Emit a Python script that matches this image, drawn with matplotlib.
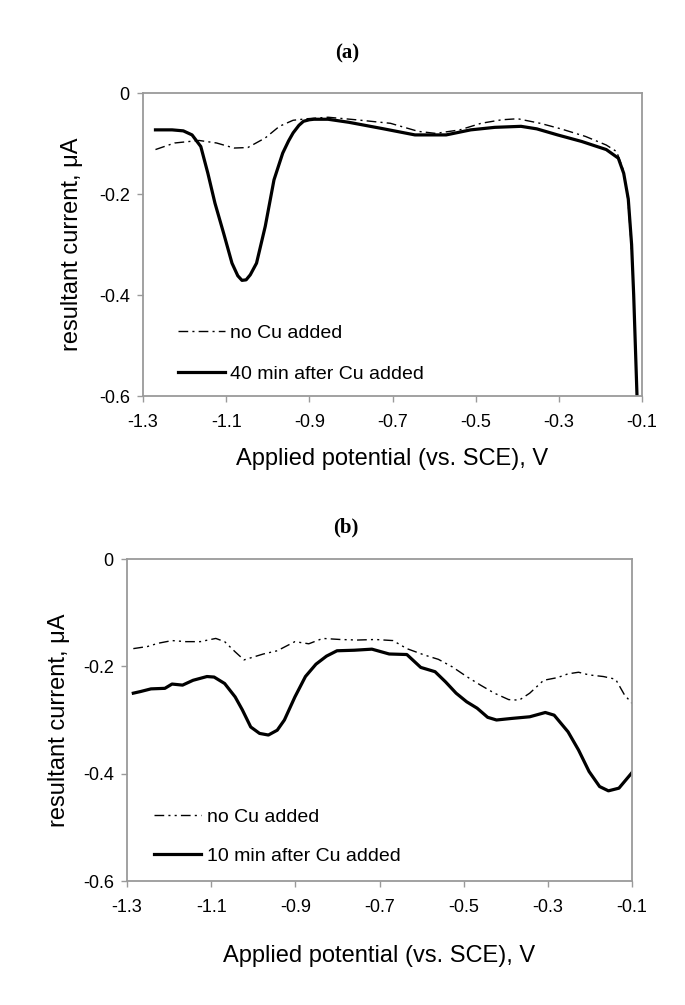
import matplotlib
matplotlib.use("Agg")
import matplotlib.pyplot as plt

plt.rcParams['font.family'] = ['Liberation Sans', 'DejaVu Sans']

# panel (a): 40 min after Cu added
a_cu_x = [-1.270, -1.230, -1.203, -1.182, -1.161, -1.144, -1.127, -1.106, -1.086, -1.072,
          -1.062, -1.052, -1.042, -1.027, -1.006, -0.985, -0.964, -0.950, -0.939, -0.925,
          -0.914, -0.900, -0.889, -0.855, -0.805, -0.721, -0.646, -0.571, -0.512, -0.454,
          -0.391, -0.353, -0.303, -0.245, -0.186, -0.157, -0.144, -0.133, -0.125, -0.120,
          -0.116, -0.112, -0.111]
a_cu_y = [-0.073, -0.073, -0.075, -0.083, -0.106, -0.159, -0.218, -0.278, -0.337, -0.362,
          -0.371, -0.370, -0.360, -0.337, -0.264, -0.172, -0.119, -0.095, -0.079, -0.064,
          -0.056, -0.053, -0.052, -0.052, -0.058, -0.071, -0.083, -0.083, -0.073, -0.068,
          -0.066, -0.071, -0.083, -0.096, -0.112, -0.129, -0.159, -0.210, -0.300, -0.400,
          -0.500, -0.600, -0.620]

# panel (a): no Cu added
a_no_x = [-1.270, -1.224, -1.165, -1.123, -1.081, -1.048, -1.006, -0.972, -0.939, -0.906,
          -0.855, -0.788, -0.705, -0.638, -0.596, -0.538, -0.487, -0.437, -0.399, -0.345,
          -0.295, -0.236, -0.186, -0.161, -0.146, -0.134, -0.126, -0.120, -0.116, -0.112,
          -0.111]
a_no_y = [-0.112, -0.099, -0.094, -0.099, -0.109, -0.108, -0.089, -0.066, -0.054, -0.051,
          -0.048, -0.053, -0.060, -0.076, -0.080, -0.073, -0.060, -0.053, -0.051, -0.060,
          -0.071, -0.086, -0.103, -0.116, -0.150, -0.210, -0.300, -0.400, -0.500, -0.600,
          -0.620]

# panel (b): 10 min after Cu added
b_cu_x = [-1.285, -1.268, -1.243, -1.210, -1.193, -1.168, -1.143, -1.110, -1.093, -1.068,
          -1.043, -1.026, -1.006, -0.985, -0.964, -0.943, -0.926, -0.901, -0.876, -0.851,
          -0.826, -0.801, -0.760, -0.718, -0.677, -0.635, -0.602, -0.568, -0.543, -0.518,
          -0.493, -0.468, -0.443, -0.422, -0.385, -0.343, -0.306, -0.285, -0.252, -0.227,
          -0.202, -0.177, -0.156, -0.131, -0.100]
b_cu_y = [-0.250, -0.247, -0.242, -0.241, -0.233, -0.235, -0.226, -0.219, -0.220, -0.232,
          -0.257, -0.281, -0.313, -0.325, -0.328, -0.319, -0.300, -0.257, -0.219, -0.196,
          -0.181, -0.171, -0.170, -0.168, -0.177, -0.178, -0.202, -0.210, -0.229, -0.250,
          -0.266, -0.278, -0.295, -0.300, -0.297, -0.294, -0.286, -0.291, -0.322, -0.356,
          -0.396, -0.424, -0.432, -0.427, -0.398]

# panel (b): no Cu added
b_no_x = [-1.285, -1.251, -1.226, -1.193, -1.160, -1.126, -1.089, -1.068, -1.043, -1.022,
          -1.001, -0.976, -0.943, -0.901, -0.868, -0.835, -0.793, -0.752, -0.710, -0.668,
          -0.635, -0.593, -0.560, -0.527, -0.493, -0.460, -0.427, -0.393, -0.368, -0.343,
          -0.310, -0.277, -0.252, -0.227, -0.202, -0.168, -0.139, -0.118, -0.100]
b_no_y = [-0.167, -0.163, -0.157, -0.152, -0.154, -0.154, -0.148, -0.154, -0.173, -0.188,
          -0.183, -0.177, -0.171, -0.154, -0.158, -0.148, -0.150, -0.151, -0.150, -0.152,
          -0.167, -0.179, -0.187, -0.201, -0.219, -0.235, -0.250, -0.262, -0.263, -0.250,
          -0.226, -0.221, -0.214, -0.211, -0.216, -0.219, -0.224, -0.253, -0.269]

x_ticks = [-1.3, -1.1, -0.9, -0.7, -0.5, -0.3, -0.1]
y_ticks = [0, -0.2, -0.4, -0.6]
x_label = "Applied potential (vs. SCE), V"
y_label = "resultant current, \u03bcA"

W, H = 685, 1005
fig = plt.figure(figsize=(W / 100, H / 100), dpi=100)


def px_axes(left, top, right, bottom):
    return fig.add_axes([left / W, 1 - bottom / H, (right - left) / W, (bottom - top) / H])


def style_axes(ax, ylab_x, xlab_y):
    ax.set_xlim(-1.3, -0.1)
    ax.set_ylim(-0.6, 0)
    ax.set_xticks(x_ticks)
    ax.set_yticks(y_ticks)
    ax.set_xticklabels([f"{t:.1f}" for t in x_ticks])
    ax.set_yticklabels(["0", "-0.2", "-0.4", "-0.6"])
    for s in ax.spines.values():
        s.set_color('#9a9a9a')
        s.set_linewidth(1.3)
    ax.tick_params(axis='both', direction='out', length=4.5, width=1, color='#9a9a9a',
                   labelsize=13)
    ax.tick_params(axis='x', pad=8.5)
    ax.tick_params(axis='y', pad=5)
    ax.set_xlabel(x_label, fontsize=17)
    ax.set_ylabel(y_label, fontsize=17)
    ax.yaxis.set_label_coords(ylab_x, 0.5)
    ax.xaxis.set_label_coords(0.5, xlab_y)


leg_kw = dict(loc='upper left', frameon=False, fontsize=14, handlelength=2.4,
              handletextpad=0.3, borderpad=0, borderaxespad=0)

# panel (a)
ax1 = px_axes(143, 93, 642, 396)
ax1.plot(a_no_x, a_no_y, color='black', lw=1.0, dashes=(7, 3, 1.5, 3), label='no Cu added')
ax1.plot(a_cu_x, a_cu_y, color='black', lw=2.3, solid_joinstyle='round',
         label='40 min after Cu added')
style_axes(ax1, -0.12, -0.17)
ax1.legend(bbox_to_anchor=(0.07, 0.236), labelspacing=1.2, **leg_kw)

# panel (b)
ax2 = px_axes(127, 559, 632, 881)
ax2.plot(b_no_x, b_no_y, color='black', lw=1.0, dashes=(7, 3, 1.5, 3, 1.5, 3),
         label='no Cu added')
ax2.plot(b_cu_x, b_cu_y, color='black', lw=2.3, solid_joinstyle='round',
         label='10 min after Cu added')
style_axes(ax2, -0.113, -0.198)
ax2.legend(bbox_to_anchor=(0.054, 0.226), labelspacing=1.1, **leg_kw)

fig.text(0.507, 1 - 53 / H, "(a)", ha='center', va='center', fontsize=15,
         fontweight='bold', family=['Liberation Serif', 'DejaVu Serif'])
fig.text(0.505, 1 - 527 / H, "(b)", ha='center', va='center', fontsize=15,
         fontweight='bold', family=['Liberation Serif', 'DejaVu Serif'])

fig.savefig("out.png", dpi=100, facecolor='white')
